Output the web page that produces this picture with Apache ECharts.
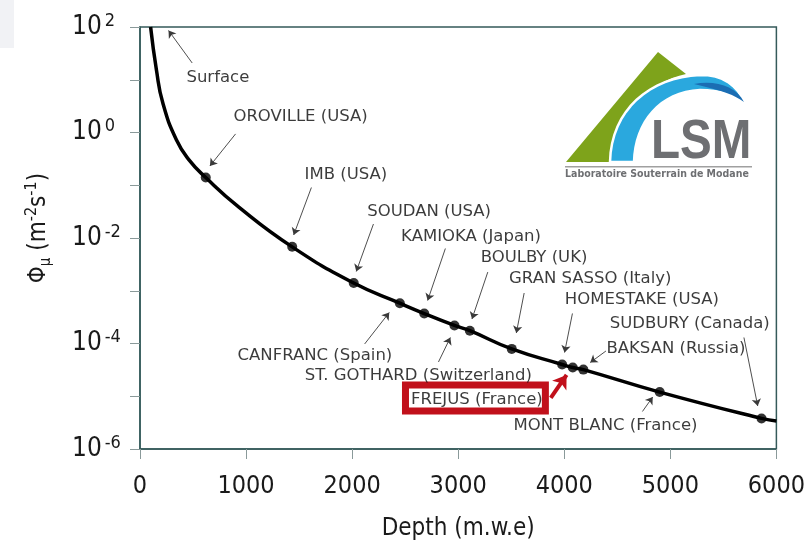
<!DOCTYPE html>
<html>
<head>
<meta charset="utf-8">
<script src="https://cdn.jsdelivr.net/npm/echarts@6/dist/echarts.min.js"></script>
<style>
  html, body { margin: 0; padding: 0; background: #fff; }
  #chart { width: 808px; height: 548px; }
</style>
</head>
<body>
<div id="chart"></div>
<script>
// underground labs: depth (m.w.e) and muon flux (m^-2 s^-1)
const labNames = ['OROVILLE (USA)', 'IMB (USA)', 'SOUDAN (USA)', 'CANFRANC (Spain)', 'KAMIOKA (Japan)',
  'ST. GOTHARD (Switzerland)', 'BOULBY (UK)', 'GRAN SASSO (Italy)', 'HOMESTAKE (USA)', 'FREJUS (France)',
  'BAKSAN (Russia)', 'MONT BLANC (France)', 'SUDBURY (Canada)']
const labDepth = [620, 1435, 2015, 2450, 2680, 2965, 3110, 3505, 3980, 4080, 4180, 4900, 5860]
const labFlux = [0.14, 6.8e-3, 1.4e-3, 5.8e-4, 3.7e-4, 2.2e-4, 1.75e-4, 7.9e-5, 4.0e-5, 3.5e-5, 3.2e-5, 1.2e-5, 3.8e-6]

// extra points read along the curve between the labs
const curveDepth = [100, 155, 216, 344, 464, 929, 6000]
const curveFlux = [100, 15.3, 3.57, 0.72, 0.30, 0.039, 3.4e-6]

// annotation layout (data coordinates): text centre, arrow tail, arrow head
const noteText = ['Surface', 'OROVILLE (USA)', 'IMB (USA)', 'SOUDAN (USA)', 'KAMIOKA (Japan)', 'BOULBY (UK)',
  'GRAN SASSO (Italy)', 'HOMESTAKE (USA)', 'SUDBURY (Canada)', 'BAKSAN (Russia)', 'CANFRANC (Spain)',
  'ST. GOTHARD (Switzerland)', 'FREJUS (France)', 'MONT BLANC (France)']
const notePos = [[734, 10.8], [1514, 2.0], [1941, 0.156], [2726, 0.0318], [3121, 0.01045], [3715, 4.18e-3],
  [4245, 1.67e-3], [4732, 6.68e-4], [5183, 2.34e-4], [5053, 7.87e-5], [1649, 5.93e-5],
  [2624, 2.47e-5], [3176, 8.49e-6], [4389, 2.73e-6]]
const arrowFrom = [[492, 20.8], [901, 0.94], [1616, 0.0906], [2201, 0.0184], [2879, 6.32e-3], [3279, 2.26e-3],
  [3622, 9.06e-4], [4077, 3.71e-4], [5694, 1.30e-4], [4393, 7.21e-5], [2118, 9.8e-5],
  [2814, 4.46e-5], null, [4737, 5.14e-6]]
const arrowTo = [[269, 85.9], [659, 0.232], [1449, 0.0114], [2039, 2.32e-3], [2712, 6.53e-4], [3130, 2.91e-4],
  [3548, 1.58e-4], [4003, 6.75e-5], [5824, 6.53e-6], [4245, 4.36e-5], [2350, 3.87e-4],
  [2926, 1.30e-4], null, [4834, 9.68e-6]]
// FREJUS highlight box and red arrow
const frejusBox = [[2503, 1.63e-5], [3822, 5.25e-6]]
const frejusArrow = [[3873, 9.27e-6], [4022, 2.53e-5]]

const TICK_FONT = "'DejaVu Sans Condensed', 'DejaVu Sans', sans-serif"
const TEXT = '#1a1a1a'
const FRAME = '#355a5a'
const RED = '#c1101b'

let curve = []
labDepth.forEach((d, i) => curve.push([d, labFlux[i]]))
curveDepth.forEach((d, i) => curve.push([d, curveFlux[i]]))
curve.sort((a, b) => a[0] - b[0])

let arrows = []
arrowFrom.forEach((f, i) => {
  if (f) arrows.push([{coord: f}, {coord: arrowTo[i]}])
})

// logo outline helper: cubic bezier -> points
function bez (p0, p1, p2, p3, n) {
  let pts = []
  for (let i = 0; i <= n; i++) {
    let t = i / n, u = 1 - t
    pts.push([
      u * u * u * p0[0] + 3 * u * u * t * p1[0] + 3 * u * t * t * p2[0] + t * t * t * p3[0],
      u * u * u * p0[1] + 3 * u * u * t * p1[1] + 3 * u * t * t * p2[1] + t * t * t * p3[1],
    ])
  }
  return pts
}
let greenPts = [[566, 162], [658, 52]].concat(bez([686, 74], [655, 80], [614, 110], [612, 162], 14))
let bluePts = [].concat(
  bez([610, 162], [611, 110], [650, 77], [700, 75], 16),
  bez([700, 75], [722, 74], [738, 86], [744, 102], 8),
  bez([744, 102], [735, 95], [720, 90], [700, 90], 8),
  bez([700, 90], [660, 92], [635, 122], [634, 162], 16))
let darkPts = [].concat(
  bez([694, 84], [715, 80], [736, 86], [744, 102], 10),
  bez([744, 102], [732, 93], [715, 89], [694, 84], 10))

let chart = echarts.init(document.getElementById('chart'), null, {renderer: 'canvas'})
let option = {
  animation: false,
  backgroundColor: '#fff',
  grid: {
    left: 140, right: 22, top: 27, bottom: 99,
    show: true, borderColor: FRAME, borderWidth: 1.5, backgroundColor: '#fff',
  },
  xAxis: {
    type: 'value',
    min: 0, max: 6000, interval: 1000,
    name: 'Depth (m.w.e)',
    nameLocation: 'middle',
    nameGap: 68,
    nameTextStyle: {fontSize: 24, color: TEXT, fontFamily: TICK_FONT},
    axisLine: {show: true, lineStyle: {color: FRAME, width: 1.5}},
    axisTick: {show: true, length: 10, lineStyle: {color: '#8a9a9a'}},
    axisLabel: {fontSize: 25, color: TEXT, fontFamily: TICK_FONT, margin: 25, formatter: v => String(v)},
    splitLine: {show: false},
  },
  yAxis: {
    type: 'log',
    logBase: 10,
    min: 1e-6, max: 100,
    splitNumber: 8,
    name: '{p|Φ}{s|μ}{p| (m}{u|-2}{p|s}{u|-1}{p|)}',
    nameLocation: 'middle',
    nameGap: 86,
    nameRotate: 90,
    nameTextStyle: {
      color: TEXT,
      padding: [0, 0, 0, 20],
      rich: {
        p: {fontSize: 24, lineHeight: 30, color: TEXT, fontFamily: TICK_FONT},
        s: {fontSize: 15, lineHeight: 15, verticalAlign: 'bottom', color: TEXT, fontFamily: TICK_FONT},
        u: {fontSize: 16, lineHeight: 16, verticalAlign: 'top', color: TEXT, fontFamily: TICK_FONT},
      },
    },
    axisLine: {show: true, lineStyle: {color: FRAME, width: 1.5}},
    axisTick: {show: true, length: 10, lineStyle: {color: '#8a9a9a'}},
    axisLabel: {
      margin: 68,
      align: 'left',
      formatter: function (v) {
        let e = Math.round(Math.log10(v))
        if (e % 2 !== 0) return ''
        return '{b|10}{e|' + e + '}'
      },
      rich: {
        b: {fontSize: 26, lineHeight: 30, color: TEXT, fontFamily: TICK_FONT},
        e: {fontSize: 18, lineHeight: 18, verticalAlign: 'top', color: TEXT, fontFamily: TICK_FONT, padding: [0, 0, 0, 3]},
      },
    },
    splitLine: {show: false},
    minorTick: {show: false},
  },
  series: [
    {
      name: 'curve',
      type: 'line',
      data: curve,
      smooth: 0.5,
      showSymbol: false,
      lineStyle: {color: '#000', width: 3.5},
      z: 3,
    },
    {
      name: 'labs',
      type: 'scatter',
      data: labDepth.map((d, i) => ({name: labNames[i], value: [d, labFlux[i]]})),
      symbol: 'circle',
      symbolSize: 10,
      itemStyle: {color: '#000'},
      z: 4,
      markArea: {
        silent: true,
        itemStyle: {color: 'rgba(0,0,0,0)', borderColor: RED, borderWidth: 7},
        label: {show: false},
        data: [[{coord: frejusBox[0]}, {coord: frejusBox[1]}]],
      },
      markLine: {
        silent: true,
        symbol: ['none', 'arrow'],
        symbolSize: 13,
        label: {show: false},
        lineStyle: {color: RED, width: 4, type: 'solid'},
        data: [[{coord: frejusArrow[0]}, {coord: frejusArrow[1]}]],
      },
    },
    {
      name: 'notes',
      type: 'scatter',
      data: noteText.map((t, i) => ({name: t, value: notePos[i]})),
      symbolSize: 0,
      itemStyle: {color: '#000'},
      label: {
        show: true,
        position: 'inside',
        formatter: p => p.name,
        fontSize: 16.5,
        color: '#0a0a0a',
        fontFamily: "'DejaVu Sans', sans-serif",
      },
      z: 5,
      markLine: {
        silent: true,
        symbol: ['none', 'arrow'],
        symbolSize: 7,
        label: {show: false},
        lineStyle: {color: '#3a3a3a', width: 0.9, type: 'solid'},
        data: arrows,
      },
    },
  ],
  graphic: [
    // slide corner
    {type: 'rect', left: 0, top: 0, shape: {width: 14, height: 48}, style: {fill: '#f1f2f5'}, z: -1},
    // LSM logo
    {type: 'polygon', z: 10, shape: {points: greenPts}, style: {fill: '#7ea31b'}},
    {type: 'polygon', z: 11, shape: {points: bluePts}, style: {fill: '#2aa8de', stroke: '#fff', lineWidth: 2.5}},
    {type: 'polygon', z: 12, shape: {points: darkPts}, style: {fill: '#1b6db3'}},
    {
      type: 'text', z: 12, x: 651, y: 143, scaleX: 0.85,
      style: {text: 'LSM', fontSize: 56, fontWeight: 'bold', fontFamily: "'Liberation Sans', sans-serif",
        fill: '#6e6f72', verticalAlign: 'middle'},
    },
    {type: 'rect', z: 12, x: 565, y: 166, shape: {width: 187, height: 1.5}, style: {fill: '#a0a0a0'}},
    {
      type: 'text', z: 12, x: 565, y: 174, scaleX: 1.05,
      style: {text: 'Laboratoire Souterrain de Modane', fontSize: 10, fontWeight: 'bold',
        fontFamily: "'DejaVu Sans Condensed', 'DejaVu Sans', sans-serif", fill: '#6e6f72', verticalAlign: 'middle'},
    },
  ],
}
chart.setOption(option)
</script>
</body>
</html>
